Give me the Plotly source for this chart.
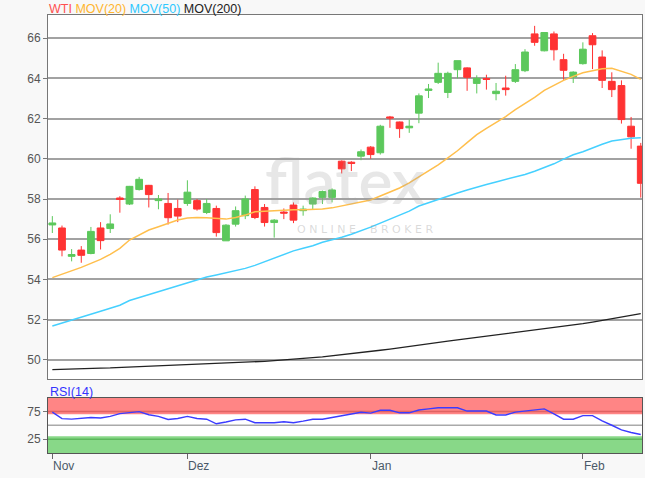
import plotly.graph_objects as go

# ---------------- data ----------------
opens = [56.71, 56.56, 55.15, 55.46, 55.29, 56.56, 56.53, 58.05, 57.75, 58.47,
         58.68, 57.92, 57.78, 57.53, 57.78, 57.92, 57.33, 57.53, 55.92, 56.75,
         57.17, 58.47, 57.58, 56.83, 57.35, 57.70, 57.42, 57.75, 58.08, 58.08,
         59.88, 59.83, 60.13, 60.58, 60.30, 62.08, 61.83, 61.54, 62.27, 63.40,
         63.80, 63.30, 64.43, 64.52, 63.75, 63.99, 63.24, 63.52, 63.85, 64.38,
         66.21, 65.37, 66.21, 64.93, 64.07, 64.73, 66.12, 65.06, 63.85, 63.64,
         61.62, 60.63]
highs = [57.15, 56.68, 55.51, 55.66, 56.61, 56.85, 57.24, 58.14, 58.65, 59.10,
         58.70, 58.20, 58.30, 57.97, 58.93, 58.00, 58.00, 57.67, 56.75, 57.63,
         58.17, 58.63, 57.75, 57.00, 57.53, 57.83, 57.67, 58.08, 58.42, 58.53,
         59.92, 59.88, 60.46, 60.63, 61.69, 62.13, 61.85, 61.95, 63.25, 63.72,
         64.78, 64.33, 64.88, 64.55, 64.15, 64.18, 63.77, 64.13, 64.71, 65.45,
         66.61, 66.28, 66.33, 65.22, 64.35, 65.79, 66.25, 65.39, 64.30, 63.90,
         62.08, 60.79]
lows = [56.31, 55.15, 54.90, 54.83, 55.25, 55.49, 56.31, 57.32, 57.70, 58.42,
        57.58, 57.49, 56.73, 56.85, 57.66, 57.42, 57.25, 56.13, 55.92, 56.63,
        57.00, 57.00, 56.63, 56.08, 57.00, 56.80, 57.17, 57.47, 57.75, 57.83,
        59.27, 59.39, 59.93, 60.00, 60.21, 61.54, 61.04, 61.29, 61.77, 63.02,
        63.72, 63.02, 64.00, 63.38, 63.25, 63.44, 62.91, 63.14, 63.77, 64.31,
        65.62, 65.34, 64.89, 63.93, 63.77, 64.68, 64.46, 63.52, 63.07, 61.75,
        60.50, 58.07]
closes = [56.81, 55.46, 55.24, 55.20, 56.39, 55.93, 56.76, 57.98, 58.63, 58.98,
          58.22, 58.00, 57.07, 57.15, 58.34, 57.50, 57.78, 56.33, 56.70, 57.42,
          58.00, 57.08, 56.83, 56.95, 57.30, 56.95, 57.50, 58.05, 58.37, 58.45,
          59.50, 59.77, 60.35, 60.21, 61.62, 62.03, 61.50, 61.62, 63.13, 63.47,
          64.25, 64.25, 64.88, 64.05, 64.00, 63.95, 63.36, 63.44, 64.43, 65.31,
          65.79, 66.28, 65.42, 64.40, 64.31, 65.45, 65.67, 63.90, 63.44, 61.95,
          61.09, 58.78]

mov20 = [54.09, 54.25, 54.42, 54.60, 54.80, 55.00, 55.25, 55.55, 55.96, 56.22,
         56.46, 56.62, 56.80, 56.96, 57.05, 57.08, 57.07, 57.05, 57.00, 57.08,
         57.20, 57.37, 57.40, 57.43, 57.45, 57.46, 57.47, 57.48, 57.50, 57.56,
         57.65, 57.75, 57.85, 57.95, 58.15, 58.35, 58.55, 58.80, 59.10, 59.44,
         59.70, 60.05, 60.40, 60.80, 61.20, 61.51, 61.80, 62.10, 62.45, 62.75,
         63.05, 63.40, 63.65, 63.90, 64.10, 64.28, 64.38, 64.48, 64.50, 64.36,
         64.20, 63.95]
mov50 = [51.69, 51.83, 51.98, 52.12, 52.27, 52.42, 52.57, 52.72, 52.95, 53.10,
         53.25, 53.38, 53.52, 53.68, 53.85, 54.00, 54.12, 54.22, 54.32, 54.45,
         54.55, 54.70, 54.88, 55.05, 55.25, 55.42, 55.55, 55.68, 55.85, 55.97,
         56.10, 56.25, 56.42, 56.60, 56.80, 57.00, 57.20, 57.40, 57.65, 57.82,
         57.98, 58.15, 58.30, 58.45, 58.60, 58.72, 58.85, 58.97, 59.08, 59.22,
         59.38, 59.55, 59.75, 59.98, 60.20, 60.35, 60.55, 60.72, 60.88, 60.95,
         61.02, 61.05]
mov200 = [49.52, 49.54, 49.55, 49.56, 49.57, 49.59, 49.60, 49.62, 49.63, 49.65,
          49.67, 49.69, 49.70, 49.72, 49.74, 49.76, 49.78, 49.80, 49.82, 49.84,
          49.87, 49.90, 49.93, 49.96, 49.99, 50.03, 50.07, 50.11, 50.15, 50.20,
          50.25, 50.30, 50.36, 50.42, 50.48, 50.54, 50.60, 50.67, 50.74, 50.80,
          50.87, 50.93, 51.00, 51.06, 51.12, 51.18, 51.24, 51.30, 51.36, 51.42,
          51.48, 51.54, 51.60, 51.66, 51.72, 51.80, 51.88, 51.96, 52.04, 52.12,
          52.20, 52.30]
rsi = [73.7, 62.0, 61.0, 62.0, 64.0, 63.0, 66.0, 71.0, 72.5, 74.5,
       69.0, 66.0, 60.5, 62.2, 66.0, 62.2, 60.9, 52.6, 55.8, 59.6,
       60.9, 54.5, 54.5, 54.5, 56.4, 54.5, 57.5, 60.9, 60.9, 64.1,
       67.3, 70.5, 73.5, 71.8, 76.9, 76.9, 72.4, 72.4, 77.5, 79.5,
       81.4, 81.4, 81.4, 75.6, 75.6, 75.6, 68.6, 68.6, 73.7, 75.5,
       76.9, 79.5, 70.5, 60.9, 60.9, 67.3, 67.3, 57.7, 50.0, 41.7,
       37.0, 33.3]

month_labels = ["Nov", "Dez", "Jan", "Feb"]
month_index = [0, 14, 33, 55]
price_ticks = [50, 52, 54, 56, 58, 60, 62, 64, 66]
rsi_ticks = [25, 75]

# ---------------- figure ----------------
x = list(range(len(opens)))
W, H = 645, 478
ML, MR, MT, MB = 48, 3, 15, 25
PH = H - MT - MB


def fy(px):
    return (H - MB - px) / PH


FONT = "Liberation Sans, Arial, sans-serif"
GREEN = "#5cc85c"
RED = "#ff3333"

fig = go.Figure()
fig.add_trace(go.Candlestick(
    x=x, open=opens, high=highs, low=lows, close=closes,
    increasing=dict(line=dict(color=GREEN, width=1), fillcolor=GREEN),
    decreasing=dict(line=dict(color=RED, width=1), fillcolor=RED),
    whiskerwidth=0, showlegend=False, xaxis="x", yaxis="y", hoverinfo="skip"))
fig.add_trace(go.Scatter(x=x, y=mov200, mode="lines", line=dict(color="#222222", width=1.3),
                         showlegend=False, hoverinfo="skip"))
fig.add_trace(go.Scatter(x=x, y=mov50, mode="lines", line=dict(color="#45d0ff", width=1.5),
                         showlegend=False, hoverinfo="skip"))
fig.add_trace(go.Scatter(x=x, y=mov20, mode="lines", line=dict(color="#ffbf4d", width=1.5),
                         showlegend=False, hoverinfo="skip"))
fig.add_trace(go.Scatter(x=x, y=rsi, mode="lines", line=dict(color="#3b3bff", width=1.4),
                         xaxis="x2", yaxis="y2", showlegend=False, hoverinfo="skip"))

xr = [-0.45, 61.13]
fig.update_layout(
    width=W, height=H,
    margin=dict(l=ML, r=MR, t=MT, b=MB),
    paper_bgcolor="#f8f8f8", plot_bgcolor="#ffffff",
    font=dict(family=FONT, size=12, color="#555555"),
    showlegend=False,
    boxgap=0.3, boxgroupgap=0,
    xaxis=dict(domain=[0, 1], range=xr, anchor="y", showgrid=False, zeroline=False,
               showticklabels=False, ticks="", showline=True, mirror=True,
               linecolor="#777777", linewidth=1, rangeslider=dict(visible=False)),
    yaxis=dict(domain=[fy(379), 1], range=[49.05, 67.15], tickvals=price_ticks,
               showgrid=True, gridcolor="#a2a2a2", gridwidth=1.5, zeroline=False,
               ticks="outside", ticklen=4, tickcolor="#777777",
               showline=True, mirror=True, linecolor="#777777", linewidth=1,
               tickfont=dict(size=12, color="#555555")),
    xaxis2=dict(domain=[0, 1], range=xr, anchor="y2", showgrid=False, zeroline=False,
                tickvals=month_index, ticks="outside", ticklen=5, tickcolor="#666666",
                showticklabels=False, showline=True, mirror=True,
                linecolor="#555555", linewidth=1),
    yaxis2=dict(domain=[0, fy(397.5)], range=[0, 100], tickvals=rsi_ticks,
                showgrid=False, zeroline=False, ticks="outside", ticklen=4,
                tickcolor="#777777", showline=True, mirror=True,
                linecolor="#555555", linewidth=1,
                tickfont=dict(size=12, color="#555555")),
)

shapes = [
    dict(type="rect", xref="x2 domain", yref="y2", x0=0, x1=1, y0=70, y1=100,
         fillcolor="#ff8585", line=dict(width=0), layer="below"),
    dict(type="rect", xref="x2 domain", yref="y2", x0=0, x1=1, y0=0, y1=30,
         fillcolor="#88d888", line=dict(width=0), layer="below"),
    dict(type="line", xref="x2 domain", yref="y2", x0=0, x1=1, y0=75, y1=75,
         line=dict(color="#e06262", width=1.5), layer="below"),
    dict(type="line", xref="x2 domain", yref="y2", x0=0, x1=1, y0=25, y1=25,
         line=dict(color="#5cb85c", width=1.5), layer="below"),
    dict(type="line", xref="x2 domain", yref="y2", x0=0, x1=1, y0=50, y1=50,
         line=dict(color="#aaaaaa", width=1.5), layer="below"),
]
fig.update_layout(shapes=shapes)

ann = []
legend_txt = ("<span style='color:#ff5050'>WTI</span> "
              "<span style='color:#ffb52e'>MOV(20)</span> "
              "<span style='color:#2ec8ff'>MOV(50)</span> "
              "<span style='color:#222222'>MOV(200)</span>")
ann.append(dict(text=legend_txt, xref="paper", yref="paper", x=0, y=fy(0),
                xanchor="left", yanchor="top", showarrow=False,
                font=dict(family=FONT, size=12.5), xshift=-1))
ann.append(dict(text="RSI(14)", xref="paper", yref="paper", x=0, y=fy(383),
                xanchor="left", yanchor="top", showarrow=False,
                font=dict(family=FONT, size=12.5, color="#3333ff")))
for lab, pos in zip(month_labels, month_index):
    ann.append(dict(text=lab, xref="x2", yref="paper", x=pos, y=fy(457),
                    xanchor="left", yanchor="top", showarrow=False, xshift=-1,
                    font=dict(family=FONT, size=12, color="#4a5868")))
# watermark
ann.append(dict(text="flatex", xref="paper", yref="paper", x=(345 - ML) / (W - ML - MR),
                y=fy(180), xanchor="center", yanchor="middle", showarrow=False,
                font=dict(family="Lato, Open Sans, sans-serif", size=64, weight=600,
                          color="rgba(160,160,160,0.25)")))
ann.append(dict(text="O N L I N E    B R O K E R", xref="paper", yref="paper",
                x=(365 - ML) / (W - ML - MR), y=fy(229), xanchor="center",
                yanchor="middle", showarrow=False,
                font=dict(family="DejaVu Sans, sans-serif", size=11,
                          color="rgba(150,150,150,0.35)")))
fig.update_layout(annotations=ann)

fig.write_html("out.html", config={"displayModeBar": False},
               post_script="document.body.style.margin='0';")
